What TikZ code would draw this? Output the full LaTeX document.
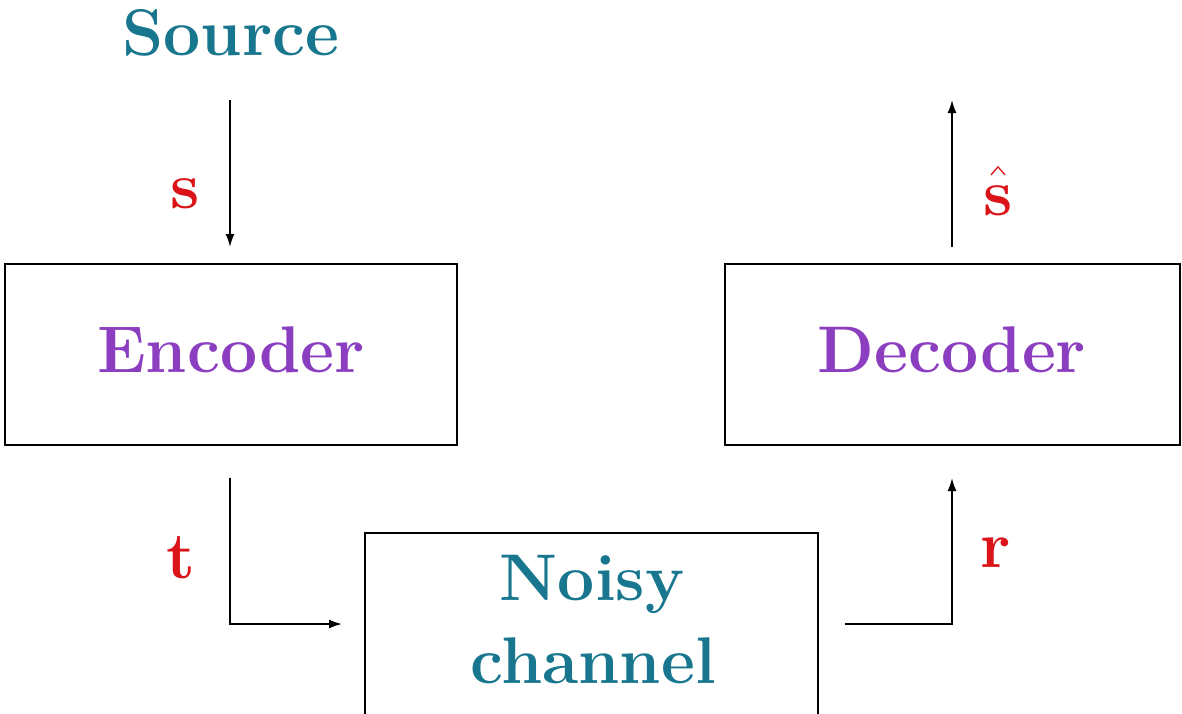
\documentclass[tikz,border=0pt]{standalone}
\usetikzlibrary{arrows.meta}
\definecolor{tealtxt}{RGB}{24,118,142}
\definecolor{purptxt}{RGB}{140,62,192}
\definecolor{redtxt}{RGB}{218,20,24}
\tikzset{
  blockbox/.style={draw=black, line width=1.7pt, fill=none, inner sep=0pt},
  bigtext/.style={font=\fontsize{66}{83}\selectfont\bfseries, inner sep=0pt},
  sigtext/.style={font=\fontsize{66}{83}\selectfont\bfseries, text=redtxt, inner sep=0pt, anchor=base},
  hatstroke/.style={draw=redtxt, line width=1.3pt, line join=miter},
  flow/.style={line width=1.7pt, -{Latex[length=13pt,width=9pt]}},
}
\begin{document}
\begin{tikzpicture}[x=1pt,y=-1pt]
  \useasboundingbox (0,0) rectangle (1182,713);
  \clip (0,0) rectangle (1182,713);

  % blocks
  \node[blockbox, minimum width=452pt, minimum height=181pt] (enc) at (231,354.5) {};
  \node[blockbox, minimum width=455pt, minimum height=181pt] (dec) at (952.5,354.5) {};
  \node[blockbox, minimum width=453pt, minimum height=210pt] (chan) at (591.5,638) {};

  % block labels
  \node[bigtext, text=purptxt, anchor=base] (enctxt) at (231,372) {Encoder};
  \node[bigtext, text=purptxt, anchor=base] (dectxt) at (952,372) {Decoder};
  \node[bigtext, text=tealtxt, anchor=base] (noisy) at (592,600) {Noisy};
  \node[bigtext, text=tealtxt, anchor=base] (chantxt) at (593,683) {channel};
  \node[bigtext, text=tealtxt, anchor=base] (src) at (231,55) {Source};

  % connector end points
  \coordinate (sfrom) at (230,100);
  \coordinate (sto)   at (230,247);
  \coordinate (hfrom) at (952,247);
  \coordinate (hto)   at (952,100);
  \coordinate (tfrom) at (230,478);
  \coordinate (tto)   at (342,624);
  \coordinate (rfrom) at (845,624);
  \coordinate (rto)   at (952,478);

  % connectors
  \draw[flow] (sfrom) -- (sto);
  \draw[flow] (hfrom) -- (hto);
  \draw[flow] (tfrom) |- (tto);
  \draw[flow] (rfrom) -| (rto);

  % signal labels
  \node[sigtext] (slab) at (185,208) {s};
  \node[sigtext] (shat) at (998,215) {s};
  % circumflex over the estimate
  \draw[hatstroke] ([xshift=-7pt,yshift=10pt]shat.north) -- ++(7,-8) -- ++(7,8);
  \node[sigtext] (tlab) at (181,578) {t};
  \node[sigtext] (rlab) at (996,567) {r};
\end{tikzpicture}
\end{document}
